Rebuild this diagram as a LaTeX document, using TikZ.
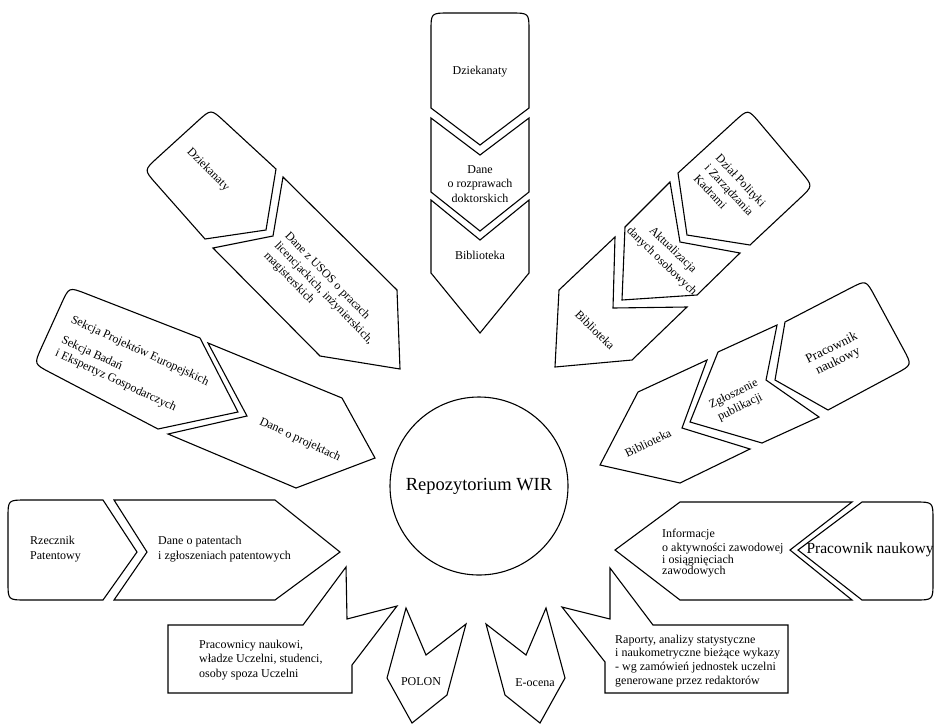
\documentclass[tikz,border=0pt]{standalone}
\usepackage{fontspec}
\setmainfont{Liberation Serif}
\usetikzlibrary{calc}

\begin{document}
\begin{tikzpicture}[x=1pt,y=-1pt,
  every node/.style={font=\fontsize{12}{14.5}\selectfont,inner sep=0pt},
  shp/.style={draw,line width=1.1pt},
  lbl/.style={align=center},
  lbll/.style={align=left,anchor=west}]
\useasboundingbox (0,0) rectangle (936,724);
\node[draw,circle,line width=1.1pt,minimum size=178pt,
  font=\fontsize{18.5}{22}\selectfont] (repo) at (479,486) {Repozytorium WIR};
% top column
\draw[shp] (431,108) -- (431,31) .. controls (431,13) .. (449,13) -- (511,13)
  .. controls (529,13) .. (529,31) -- (529,108) -- (480,145) -- cycle;
\draw[shp] (431,118) -- (480,155) -- (529,118) -- (529,192) -- (480,231)
  -- (431,192) -- cycle;
\draw[shp] (431,200) -- (480,240) -- (529,200) -- (529,273) -- (480,333)
  -- (431,273) -- cycle;
% upper left
\draw[shp] (276,169) -- ($(211,109)!18pt!(276,169)$) .. controls (211,109)
  .. ($(211,109)!18pt!(144,170)$) -- ($(144,170)!18pt!(211,109)$)
  .. controls (144,170) .. ($(144,170)!18pt!(205,239)$) -- (205,239)
  -- (266,230) -- cycle;
\draw[shp] (283,177) -- (397,290) -- (400,369) -- (320,356) -- (213,248)
  -- (273,236) -- cycle;
% left
\draw[shp] (200,338) -- ($(69,287)!18pt!(200,338)$) .. controls (69,287)
  .. ($(69,287)!18pt!(34,364)$) -- ($(34,364)!18pt!(69,287)$)
  .. controls (34,364) .. ($(34,364)!18pt!(158,429)$) -- (158,429)
  -- (238,412) -- cycle;
\draw[shp] (208,343) -- (342,398) -- (375,458) -- (296,488) -- (168,434)
  -- (247,416) -- cycle;
% bottom left
\draw[shp] (103,500) -- (26,500) .. controls (8,500) .. (8,518) -- (8,582)
  .. controls (8,600) .. (26,600) -- (103,600) -- (137,552) -- cycle;
\draw[shp] (114,500) -- (275,500) -- (340,552) -- (275,600) -- (114,600)
  -- (147,552) -- cycle;
\draw[shp] (168,625) -- (303,625) -- (346,567) -- (347,619) -- (397,606)
  -- (352,665) -- (352,693) -- (168,693) -- cycle;
\draw[shp] (466,624) -- (426,655) -- (406,608) -- (387,678) -- (412,723)
  -- (447,695) -- cycle;
\draw[shp] (486,624) -- (526,655) -- (546,608) -- (565,678) -- (540,723)
  -- (505,695) -- cycle;
\draw[shp] (605,662) -- (562,607) -- (610,619) -- (610,568) -- (653,625)
  -- (788,625) -- (788,693) -- (605,693) -- cycle;
% right
\draw[shp] (680,502) -- (852,502) -- (790,550) -- (852,600) -- (680,600)
  -- (615,550) -- cycle;
\draw[shp] (862,502) -- (915,502) .. controls (933,502) .. (933,520)
  -- (933,582) .. controls (933,600) .. (915,600) -- (862,600)
  -- (798,550) -- cycle;
\draw[shp] (785,322) -- ($(866,280)!18pt!(785,322)$) .. controls (866,280)
  .. ($(866,280)!18pt!(912,365)$) -- ($(912,365)!18pt!(866,280)$)
  .. controls (912,365) .. ($(912,365)!18pt!(828,410)$) -- (828,410)
  -- (775,380) -- cycle;
\draw[shp] (718,352) -- (777,325) -- (766,380) -- (819,417) -- (762,443)
  -- (690,422) -- cycle;
\draw[shp] (638,392) -- (707,360) -- (682,428) -- (750,449) -- (680,483)
  -- (600,465) -- cycle;
% upper right
\draw[shp] (678,173) -- ($(748,109)!18pt!(678,173)$) .. controls (748,109)
  .. ($(748,109)!18pt!(813,186)$) -- ($(813,186)!18pt!(748,109)$)
  .. controls (813,186) .. ($(813,186)!18pt!(750,245)$) -- (750,245)
  -- (687,235) -- cycle;
\draw[shp] (625,227) -- (670,182) -- (680,242) -- (740,253) -- (697,295)
  -- (622,300) -- cycle;
\draw[shp] (559,290) -- (615,237) -- (613,308) -- (687,307) -- (632,360)
  -- (555,367) -- cycle;
% labels
\node[lbl] (dziekA) at (480,72) {Dziekanaty};
\node[lbl] (rozpr) at (480,184) {Dane\\o rozprawach\\doktorskich};
\node[lbl] (biblA) at (480,255) {Biblioteka};
\node[lbl,rotate=-45] (dziekB) at (208,170) {Dziekanaty};
\node[lbll,rotate=-46] (usos) at (276,244)
  {Dane z USOS o pracach\\licencjackich, inżynierskich,\\magisterskich};
\node[lbl,rotate=-25,align=left] (sekcje) at (132,368)
  {Sekcja Projektów Europejskich\\[8pt]Sekcja Badań\\i Ekspertyz Gospodarczych};
\node[lbl,rotate=-25] (proj) at (300,440) {Dane o projektach};
\node[lbll,font=\fontsize{12}{15}\selectfont] (rzecz) at (30,549)
  {Rzecznik\\Patentowy};
\node[lbll,font=\fontsize{12}{15}\selectfont] (patent) at (158,549)
  {Dane o patentach\\i zgłoszeniach patentowych};
\node[lbll] (odb) at (199,660)
  {Pracownicy naukowi,\\władze Uczelni, studenci,\\osoby spoza Uczelni};
\node[lbl] (polon) at (421,682) {POLON};
\node[lbl] (eocena) at (535,683) {E-ocena};
\node[lbll,font=\fontsize{12}{13.9}\selectfont] (raport) at (615,661)
  {Raporty, analizy statystyczne\\i naukometryczne bieżące wykazy\\- wg zamówień jednostek uczelni\\generowane przez redaktorów};
\node[lbll,font=\fontsize{12}{11.5}\selectfont] (inform) at (662,553)
  {Informacje\\[3pt]o aktywności zawodowej\\i osiągnięciach\\zawodowych};
\node[lbl,font=\fontsize{15.5}{17}\selectfont] (pracA) at (870,550)
  {Pracownik naukowy};
\node[lbl,rotate=26,font=\fontsize{13}{14.5}\selectfont] (pracB) at (835,355)
  {Pracownik\\naukowy};
\node[lbl,rotate=26] (zglosz) at (737,401) {Zgłoszenie\\publikacji};
\node[lbl,rotate=26] (biblC) at (648,443) {Biblioteka};
\node[lbll,rotate=-47,font=\fontsize{12}{15}\selectfont] (kadry) at (707,166)
  {Dział Polityki\\i Zarządzania\\Kadrami};
\node[lbl,rotate=-44,font=\fontsize{12}{16}\selectfont] (aktual) at (667,256)
  {Aktualizacja\\danych osobowych};
\node[lbl,rotate=-45] (biblB) at (595,330) {Biblioteka};
\end{tikzpicture}
\end{document}
